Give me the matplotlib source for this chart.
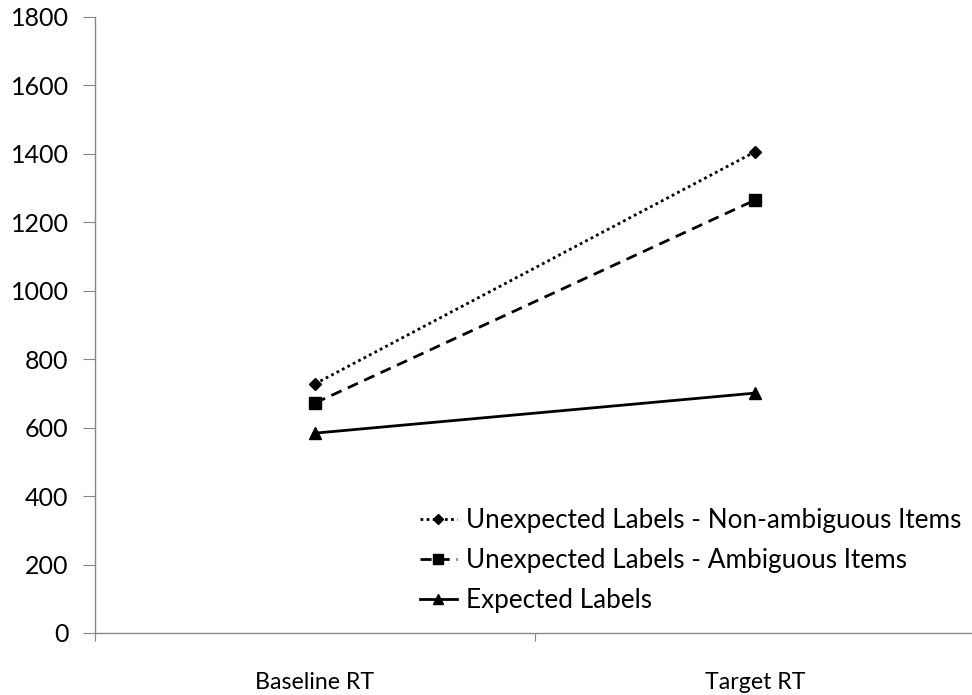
import matplotlib
matplotlib.use('Agg')
import matplotlib.pyplot as plt

# data
categories = ['Baseline RT', 'Target RT']
non_ambiguous = [728, 1406]
ambiguous = [672, 1265]
expected = [584, 701]
y_ticks = [0, 200, 400, 600, 800, 1000, 1200, 1400, 1600, 1800]

plt.rcParams['font.family'] = ['Lato', 'DejaVu Sans']

fig = plt.figure(figsize=(9.72, 6.95), dpi=100)
ax = fig.add_axes([95 / 972, 1 - 633 / 695, 880 / 972, 616 / 695])

x = [0, 1]
ax.plot(x, non_ambiguous, color='black', linestyle=(0, (1, 1.2)), linewidth=2,
        marker='D', markersize=6, label='Unexpected Labels - Non-ambiguous Items')
ax.plot(x, ambiguous, color='black', linestyle=(0, (4, 2.5)), linewidth=2,
        marker='s', markersize=8, label='Unexpected Labels - Ambiguous Items')
ax.plot(x, expected, color='black', linestyle='-', linewidth=2,
        marker='^', markersize=8, label='Expected Labels')

ax.set_xlim(-0.5, 1.5)
ax.set_ylim(0, 1800)
ax.set_yticks(y_ticks)
ax.set_yticklabels([str(v) for v in y_ticks], fontsize=18)

# category labels sit between the tick marks, as in the spreadsheet original
ax.set_xticks([-0.5, 0.5, 1.5])
ax.set_xticklabels([])
ax.set_xticks(x, minor=True)
ax.set_xticklabels(categories, minor=True, fontsize=16.7)
ax.tick_params(axis='x', which='minor', length=0, pad=28)
ax.tick_params(axis='x', which='major', length=6, color='#868686')
ax.tick_params(axis='y', length=9, color='#868686', pad=10)

for side in ['top', 'right']:
    ax.spines[side].set_visible(False)
for side in ['left', 'bottom']:
    ax.spines[side].set_color('#868686')
    ax.spines[side].set_linewidth(1)

ax.legend(loc='upper left', bbox_to_anchor=(420 / 972, 1 - 508 / 695),
          bbox_transform=fig.transFigure, frameon=False, fontsize=18.8,
          borderpad=0, borderaxespad=0, handlelength=1.4, handletextpad=0.35,
          labelspacing=0.58, markerscale=0.85)

fig.savefig('out.png', dpi=100)
